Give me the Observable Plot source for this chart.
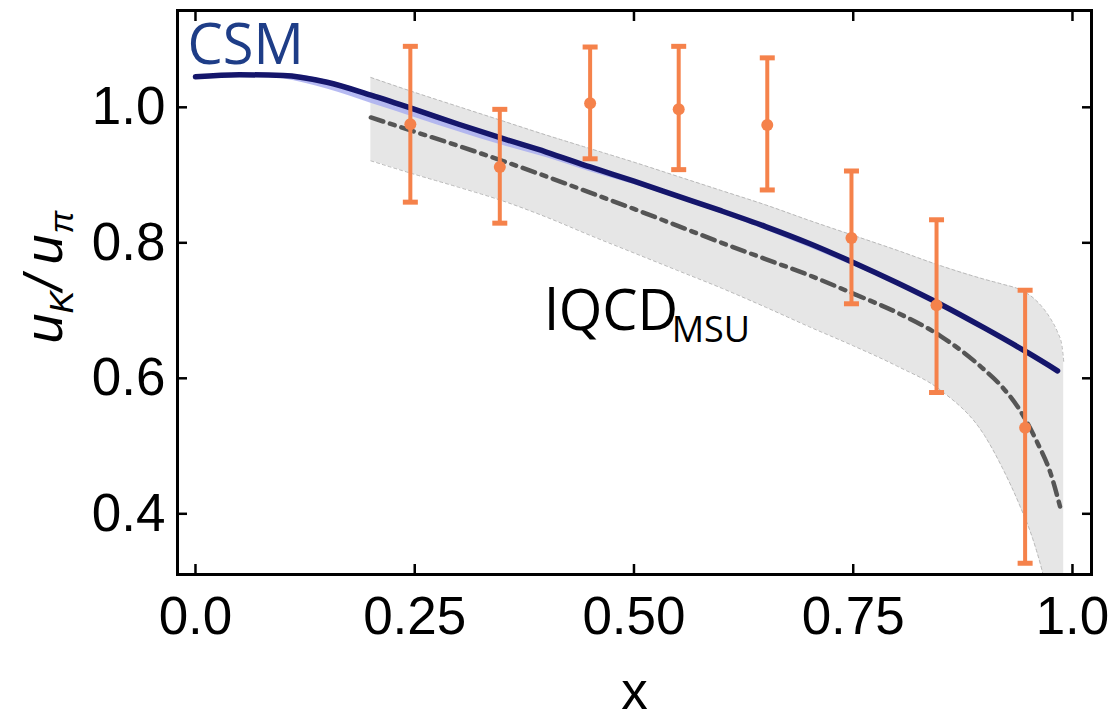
<!DOCTYPE html>
<html>
<head>
<meta charset="utf-8">
<script src="https://cdn.jsdelivr.net/npm/d3@7"></script>
<script src="https://cdn.jsdelivr.net/npm/@observablehq/plot@0.6"></script>
<style>
  html, body { margin: 0; padding: 0; background: #ffffff; }
</style>
</head>
<body>
<div id="chart"></div>
<script>
// ---- CSM curve (central line and its thin uncertainty band)
const csmX  = [0, 0.05, 0.1, 0.15, 0.2, 0.25, 0.3, 0.35, 0.4, 0.45, 0.5, 0.55, 0.6, 0.65, 0.7, 0.75, 0.8, 0.85, 0.9, 0.95, 0.983];
const csmY  = [1.045, 1.048, 1.047, 1.037, 1.018, 0.997, 0.975, 0.954, 0.934, 0.912, 0.891, 0.869, 0.847, 0.824, 0.799, 0.771, 0.741, 0.709, 0.674, 0.637, 0.611];
const csmLo = [1.045, 1.047, 1.042, 1.027, 1.006, 0.985, 0.964, 0.944, 0.926, 0.905, 0.886, 0.865, 0.843, 0.819, 0.793, 0.766, 0.738, 0.707, 0.672, 0.635, 0.609];
const csmHi = [1.046, 1.049, 1.049, 1.040, 1.021, 1.000, 0.978, 0.957, 0.936, 0.914, 0.893, 0.871, 0.849, 0.826, 0.801, 0.773, 0.743, 0.711, 0.676, 0.639, 0.613];

// ---- lQCD (MSU) band
const bandX  = [0.2, 0.25, 0.3, 0.35, 0.4, 0.45, 0.5, 0.55, 0.6, 0.65, 0.7, 0.75, 0.8, 0.85, 0.9, 0.92, 0.94, 0.955, 0.965, 0.975, 0.983, 0.988, 0.99];
const bandLo = [0.921, 0.901, 0.882, 0.862, 0.838, 0.811, 0.785, 0.759, 0.733, 0.705, 0.676, 0.648, 0.618, 0.582, 0.515, 0.468, 0.412, 0.362, 0.318, 0.26, 0.21, 0.17, 0.15];
const bandHi = [1.044, 1.022, 1.001, 0.980, 0.959, 0.939, 0.919, 0.898, 0.877, 0.856, 0.833, 0.811, 0.789, 0.766, 0.746, 0.739, 0.731, 0.719, 0.706, 0.688, 0.668, 0.648, 0.625];

// ---- lQCD central (dash-dot)
const lqX = [0.2, 0.25, 0.3, 0.35, 0.4, 0.45, 0.5, 0.55, 0.6, 0.65, 0.7, 0.75, 0.8, 0.85, 0.9, 0.92, 0.94, 0.96, 0.975, 0.986];
const lqY = [0.985, 0.964, 0.943, 0.921, 0.898, 0.874, 0.850, 0.825, 0.800, 0.776, 0.752, 0.725, 0.697, 0.662, 0.612, 0.587, 0.553, 0.505, 0.46, 0.41];

// ---- data points with error bars
const ptX  = [0.245, 0.347, 0.45, 0.551, 0.652, 0.748, 0.845, 0.946];
const ptY  = [0.975, 0.912, 1.006, 0.997, 0.974, 0.807, 0.708, 0.527];
const ptLo = [0.860, 0.829, 0.924, 0.908, 0.878, 0.710, 0.579, 0.327];
const ptHi = [1.090, 0.997, 1.089, 1.090, 1.073, 0.906, 0.834, 0.730];

// ---- ticks
const xTicks = [0, 0.25, 0.5, 0.75, 1.0];
const xTickLabels = ["0.0", "0.25", "0.50", "0.75", "1.0"];
const yTicks = [0.4, 0.6, 0.8, 1.0];
const yTickLabels = ["0.4", "0.6", "0.8", "1.0"];

// build tables
const csm = csmX.map((x, i) => ({x, y: csmY[i], lo: csmLo[i], hi: csmHi[i]}));
const band = bandX.map((x, i) => ({x, lo: bandLo[i], hi: bandHi[i]}));
const lq = lqX.map((x, i) => ({x, y: lqY[i]}));
const pts = ptX.map((x, i) => ({x, y: ptY[i], lo: ptLo[i], hi: ptHi[i]}));

const orange = "#f5824b";
const navy = "#15166b";
const capSymbol = { draw(ctx) { ctx.moveTo(-7.5, 0); ctx.lineTo(7.5, 0); } };
const tickFont = "'Liberation Sans', Arial, sans-serif";

const chart = Plot.plot({
  width: 1111,
  height: 721,
  marginLeft: 177,
  marginRight: 20,
  marginTop: 10,
  marginBottom: 147,
  x: {domain: [-0.0205, 1.0217]},
  y: {domain: [0.3104, 1.1429]},
  style: {fontFamily: tickFont, fontSize: "53px", background: "#ffffff", color: "#000"},
  marks: [
    Plot.areaY(band, {x: "x", y1: "lo", y2: "hi", fill: "#e6e6e6", curve: "monotone-x", clip: true}),
    Plot.lineY(band, {x: "x", y: "hi", stroke: "#b9b9b9", strokeWidth: 1, strokeDasharray: "3,3", curve: "monotone-x", clip: true}),
    Plot.lineY(band, {x: "x", y: "lo", stroke: "#b9b9b9", strokeWidth: 1, strokeDasharray: "3,3", curve: "monotone-x", clip: true}),
    Plot.lineY(lq, {x: "x", y: "y", stroke: "#555555", strokeWidth: 4.5, strokeDasharray: "13,7,5,7", curve: "monotone-x", clip: true}),
    Plot.areaY(csm, {x: "x", y1: "lo", y2: "hi", fill: "#a9aef0", fillOpacity: 0.85, curve: "monotone-x"}),
    Plot.lineY(csm, {x: "x", y: "y", stroke: navy, strokeWidth: 5.5, curve: "monotone-x"}),
    Plot.ruleX(pts, {x: "x", y1: "lo", y2: "hi", stroke: orange, strokeWidth: 4}),
    Plot.dot(pts, {x: "x", y: "lo", symbol: capSymbol, stroke: orange, strokeWidth: 5}),
    Plot.dot(pts, {x: "x", y: "hi", symbol: capSymbol, stroke: orange, strokeWidth: 5}),
    Plot.dot(pts, {x: "x", y: "y", r: 6, fill: orange}),

    // annotations
    Plot.text(["CSM"], {frameAnchor: "top-left", dx: 10, dy: 53, textAnchor: "start", lineAnchor: "bottom",
      fontFamily: "'Open Sans', sans-serif", fontSize: 56, fill: "#1e3d87"}),
    Plot.text(["lQCD"], {x: 0.398, y: 0.672, textAnchor: "start", lineAnchor: "bottom",
      fontFamily: "'Open Sans', sans-serif", fontSize: 56, fill: "#000"}),
    Plot.text(["MSU"], {x: 0.543, y: 0.653, textAnchor: "start", lineAnchor: "bottom",
      fontFamily: "'Open Sans', sans-serif", fontSize: 36, fill: "#000"}),

    // frame and inward ticks on all sides
    Plot.frame({stroke: "#000", strokeWidth: 3}),
    Plot.axisX(xTicks, {anchor: "bottom", tickSize: -10, strokeWidth: 2.5, tickFormat: () => "", label: null}),
    Plot.axisX(xTicks, {anchor: "top", tickSize: -10, strokeWidth: 2.5, tickFormat: () => "", label: null}),
    Plot.axisY(yTicks, {anchor: "left", tickSize: -10, strokeWidth: 2.5, tickFormat: () => "", label: null}),
    Plot.axisY(yTicks, {anchor: "right", tickSize: -10, strokeWidth: 2.5, tickFormat: () => "", label: null}),
    // tick labels
    Plot.axisX(xTicks, {anchor: "bottom", tickSize: 0, tickPadding: 22, fontSize: 53,
      tickFormat: d => xTickLabels[xTicks.indexOf(d)], label: null}),
    Plot.axisY(yTicks, {anchor: "left", tickSize: 0, tickPadding: 12, fontSize: 53,
      tickFormat: d => yTickLabels[yTicks.indexOf(d)], label: null}),

    // axis titles
    Plot.text(["x"], {frameAnchor: "bottom", dy: 134, lineAnchor: "bottom", fontSize: 53}),
    Plot.text(["u"], {frameAnchor: "left", rotate: -90, textAnchor: "start", lineAnchor: "bottom", dx: -116, dy: 51, fontStyle: "italic", fontSize: 54}),
    Plot.text(["K"], {frameAnchor: "left", rotate: -90, textAnchor: "start", lineAnchor: "bottom", dx: -105, dy: 21, fontStyle: "italic", fontSize: 34}),
    Plot.text(["/"], {frameAnchor: "left", rotate: -90, textAnchor: "start", lineAnchor: "bottom", dx: -116, dy: -2, fontStyle: "italic", fontSize: 54}),
    Plot.text(["u"], {frameAnchor: "left", rotate: -90, textAnchor: "start", lineAnchor: "bottom", dx: -116, dy: -28, fontStyle: "italic", fontSize: 54}),
    Plot.text(["π"], {frameAnchor: "left", rotate: -90, textAnchor: "start", lineAnchor: "bottom", dx: -105, dy: -59, fontStyle: "italic", fontSize: 34})
  ]
});
document.getElementById("chart").appendChild(chart);
</script>
</body>
</html>
